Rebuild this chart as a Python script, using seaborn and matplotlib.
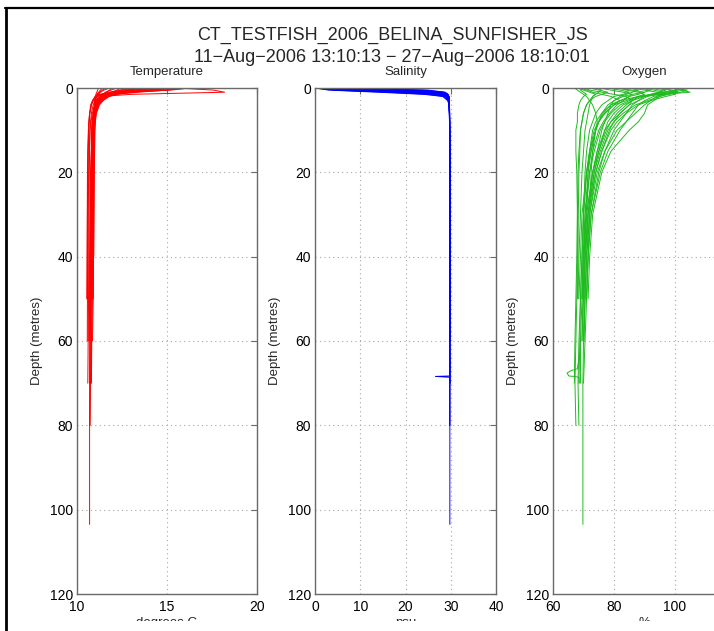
import numpy as np
import pandas as pd
import matplotlib
matplotlib.use("Agg")
import matplotlib.pyplot as plt
from matplotlib.lines import Line2D
from matplotlib.patches import Rectangle
import seaborn as sns

# ---------------- data ----------------
depth_levels = [0, 0.5, 1, 1.5, 2, 3, 4, 6, 8, 10, 15, 20, 30, 40, 50, 60, 70, 80, 90, 100, 103.5]

temp_casts = [
    [15.5, 17.6, 18.2, 13.0, 11.4, 11.1, 11.0, 10.9, 10.85, 10.8, 10.8, 10.78, 10.76, 10.75, 10.74, 10.72, 10.71, 10.7, 10.7, 10.7, 10.7],
    [16.3, 15.2, 12.8, 11.8, 11.4, 11.2, 11.05, 10.95, 10.9, 10.88, 10.85, 10.82, 10.8, 10.78, 10.76, 10.74, 10.72, 10.7],
    [14.8, 13.5, 12.2, 11.6, 11.3, 11.1, 11.0, 10.95, 10.92, 10.9, 10.88, 10.86, 10.84, 10.82, 10.8, 10.78, 10.75, 10.73],
    [13.6, 12.9, 12.3, 11.9, 11.6, 11.3, 11.15, 11.02, 10.98, 10.95, 10.92, 10.9, 10.88, 10.86, 10.84, 10.8, 10.76],
    [12.8, 12.4, 12.0, 11.7, 11.5, 11.3, 11.2, 11.05, 11.0, 10.98, 10.95, 10.93, 10.9, 10.88, 10.85, 10.82, 10.8],
    [15.0, 14.2, 12.6, 11.7, 11.3, 11.0, 10.9, 10.8, 10.75, 10.72, 10.7, 10.68, 10.66, 10.65, 10.64, 10.62, 10.6],
    [11.8, 11.5, 11.3, 11.2, 11.1, 11.0, 10.95, 10.9, 10.85, 10.82, 10.8, 10.78, 10.75, 10.72, 10.7, 10.68],
    [14.0, 13.2, 12.5, 12.0, 11.7, 11.4, 11.2, 11.0, 10.9, 10.85, 10.8, 10.75, 10.72, 10.7, 10.68, 10.66],
    [12.2, 11.9, 11.6, 11.4, 11.3, 11.15, 11.05, 10.95, 10.9, 10.86, 10.82, 10.8, 10.78, 10.76, 10.74],
    [16.0, 14.8, 13.0, 12.0, 11.5, 11.2, 11.0, 10.85, 10.78, 10.72, 10.68, 10.65, 10.62, 10.6, 10.58],
    [11.4, 11.3, 11.2, 11.1, 11.05, 11.0, 10.98, 10.95, 10.92, 10.9, 10.88, 10.86, 10.84, 10.82, 10.8],
    [13.0, 12.6, 12.1, 11.7, 11.4, 11.2, 11.1, 11.0, 10.96, 10.94, 10.92, 10.9, 10.88, 10.86, 10.85],
    [15.4, 14.0, 12.4, 11.5, 11.1, 10.9, 10.8, 10.72, 10.68, 10.65, 10.62, 10.6, 10.58, 10.57, 10.56],
    [12.0, 11.8, 11.6, 11.5, 11.4, 11.25, 11.12, 11.0, 10.96, 10.93, 10.9, 10.87, 10.85, 10.83, 10.82],
    [14.5, 13.0, 11.9, 11.4, 11.2, 11.05, 10.98, 10.92, 10.88, 10.85, 10.83, 10.8, 10.78, 10.76, 10.75],
    [11.6, 11.4, 11.25, 11.15, 11.08, 11.02, 10.98, 10.95, 10.93, 10.92, 10.91, 10.9, 10.89, 10.88],
    [16.2, 15.0, 13.4, 12.2, 11.6, 11.25, 11.08, 10.98, 10.95, 10.93, 10.92, 10.91, 10.9, 10.9, 10.88],
    [13.8, 12.5, 11.8, 11.3, 11.05, 10.9, 10.8, 10.7, 10.66, 10.63, 10.6, 10.58, 10.57, 10.56, 10.55],
    [15.8, 14.2, 12.9, 12.2, 11.8, 11.45, 11.25, 11.08, 11.02, 11.0, 10.98, 10.96, 10.94, 10.92, 10.9, 10.86],
    [12.5, 12.2, 11.9, 11.6, 11.4, 11.2, 11.08, 10.98, 10.92, 10.88, 10.84, 10.81, 10.79, 10.77, 10.75, 10.72, 10.7],
    [14.2, 13.6, 12.8, 12.1, 11.7, 11.35, 11.15, 11.0, 10.95, 10.92, 10.9, 10.88, 10.86, 10.84, 10.83],
    [11.2, 11.15, 11.1, 11.05, 11.02, 11.0, 10.99, 10.98, 10.97, 10.96, 10.95, 10.95, 10.94, 10.93],
    [15.2, 13.8, 12.0, 11.3, 11.0, 10.85, 10.76, 10.7, 10.66, 10.64, 10.62, 10.61, 10.6, 10.59, 10.58, 10.57],
    [13.3, 12.9, 12.4, 12.0, 11.7, 11.4, 11.2, 11.05, 11.0, 10.97, 10.95, 10.93, 10.92, 10.91, 10.9],
]

sal_casts = [
    [0.5, 12, 26, 28.8, 29.4, 29.6, 29.7, 29.72, 29.74, 29.75, 29.76, 29.77, 29.78, 29.78, 29.79, 29.8, 29.8, 29.8, 29.8, 29.8, 29.8],
    [0.0, 6, 20, 27, 29.0, 29.5, 29.65, 29.7, 29.72, 29.74, 29.75, 29.76, 29.77, 29.78, 29.78, 29.79, 29.8, 29.8],
    [2.0, 15, 25, 28.5, 29.3, 29.6, 29.7, 29.72, 29.73, 29.74, 29.75, 29.76, 29.77, 29.77, 29.78, 29.78, 29.79, 29.79],
    [0.2, 9, 22, 27.8, 29.1, 29.55, 29.68, 29.72, 29.74, 29.75, 29.76, 29.77, 29.78, 29.78, 29.79, 29.79, 29.8],
    [1.0, 20, 27.5, 29.0, 29.5, 29.65, 29.7, 29.73, 29.75, 29.76, 29.77, 29.78, 29.78, 29.79, 29.79, 29.8, 29.8],
    [0.0, 4, 16, 25, 28.5, 29.4, 29.62, 29.7, 29.72, 29.74, 29.75, 29.76, 29.77, 29.78, 29.78, 29.79, 29.8],
    [3.0, 18, 27, 29.2, 29.55, 29.68, 29.72, 29.74, 29.75, 29.76, 29.77, 29.78, 29.78, 29.79, 29.79, 29.8],
    [0.5, 10, 23, 28.2, 29.3, 29.6, 29.7, 29.72, 29.74, 29.75, 29.76, 29.77, 29.77, 29.78, 29.78, 29.79],
    [0.0, 14, 24.5, 28.6, 29.4, 29.62, 29.7, 29.73, 29.74, 29.75, 29.76, 29.77, 29.78, 29.78, 29.79],
    [1.5, 22, 28.2, 29.3, 29.6, 29.7, 29.72, 29.74, 29.75, 29.76, 29.77, 29.78, 29.78, 29.79, 29.79],
    [0.3, 7, 19, 26.5, 28.9, 29.5, 29.66, 29.71, 29.73, 29.74, 29.75, 29.76, 29.77, 29.78, 29.78],
    [4.0, 17, 26.5, 29.0, 29.5, 29.66, 29.71, 29.73, 29.75, 29.76, 29.77, 29.78, 29.78, 29.79, 29.79],
    [0.0, 11, 24, 28.4, 29.35, 29.6, 29.7, 29.72, 29.74, 29.75, 29.76, 29.77, 29.78, 29.78, 29.79],
    [2.5, 25, 28.8, 29.4, 29.6, 29.7, 29.72, 29.74, 29.75, 29.76, 29.77, 29.77, 29.78, 29.78, 29.79],
    [0.8, 13, 25.5, 28.7, 29.45, 29.64, 29.71, 29.73, 29.74, 29.75, 29.76, 29.77, 29.78, 29.78, 29.79],
    [0.1, 5, 18, 26, 28.7, 29.45, 29.64, 29.7, 29.73, 29.74, 29.75, 29.76, 29.77, 29.78],
    [0.0, 3, 14, 24, 28.2, 29.35, 29.6, 29.7, 29.73, 29.74, 29.75, 29.76, 29.77, 29.78, 29.78],
    [5.0, 21, 27.8, 29.2, 29.55, 29.68, 29.72, 29.74, 29.75, 29.76, 29.77, 29.78, 29.78, 29.79, 29.79],
    [0.4, 16, 26, 28.9, 29.45, 29.64, 29.71, 29.73, 29.74, 29.75, 29.76, 29.77, 29.78, 29.78, 29.79, 29.79],
    [1.2, 8, 21, 27.2, 29.0, 29.52, 29.66, 29.71, 29.73, 29.74, 29.75, 29.76, 29.77, 29.78, 29.78, 29.79, 29.8],
    [0.0, 19, 27.2, 29.1, 29.5, 29.65, 29.71, 29.73, 29.74, 29.75, 29.76, 29.77, 29.78, 29.78, 29.79],
    [2.2, 12, 24.8, 28.6, 29.4, 29.62, 29.7, 29.72, 29.74, 29.75, 29.76, 29.77, 29.78, 29.78],
    [0.6, 24, 28.5, 29.35, 29.58, 29.68, 29.72, 29.74, 29.75, 29.76, 29.77, 29.77, 29.78, 29.78, 29.79, 29.79],
    [0.0, 9, 21.5, 27.5, 29.05, 29.55, 29.68, 29.72, 29.74, 29.75, 29.76, 29.77, 29.78, 29.78, 29.79],
]

oxy_casts = [
    [98, 102, 105, 96, 88, 82, 79, 76, 74, 73, 72, 71.5, 71, 70.5, 70.2, 70, 69.8, 69.8, 69.8, 69.8, 69.8],
    [100, 101, 97, 92, 88, 84, 80, 77, 75, 74, 72, 71, 70, 69.5, 69, 68.5, 68.2, 68.5],
    [70, 69, 70, 71, 70, 69, 68.5, 68, 68, 67.5, 67.5, 67.8, 68, 68, 67.8, 67.5, 67.2, 67.5],
    [95, 98, 100, 94, 90, 86, 83, 80, 78, 77, 75, 73, 71, 70, 69.5, 69, 69],
    [88, 92, 90, 86, 83, 80, 78, 76, 75, 74, 73, 72.5, 72, 71.5, 71, 70.5, 70],
    [72, 75, 78, 76, 74, 72, 71, 70, 69.5, 69, 68.5, 68.2, 68, 67.8, 67.5, 67.2, 67],
    [101, 103, 99, 96, 94, 92, 90, 87, 84, 81, 77, 74.5, 72, 71, 70.5, 70],
    [85, 88, 86, 84, 82, 80, 79, 78, 77, 76, 74.5, 73, 71.5, 71, 70.5, 70.2],
    [94, 97, 95, 92, 90, 88, 86, 84, 82, 80, 77, 75, 72.5, 71.5, 71],
    [68, 70, 72, 74, 73, 72, 71, 70, 69.5, 69, 68.8, 68.5, 68.3, 68.2, 68],
    [90, 93, 96, 93, 89, 85, 82, 79, 77, 75.5, 73.5, 72, 70.5, 70, 69.5],
    [78, 82, 85, 83, 80, 78, 76, 74, 73, 72, 71, 70.5, 70, 69.8, 69.5],
    [102, 100, 97, 94, 91, 88, 85, 82, 80, 78.5, 76, 74, 71.5, 70.5, 70],
    [74, 76, 75, 74, 73, 72.5, 72, 71.5, 71, 70.5, 70, 69.5, 69, 68.5, 68.2],
    [96, 99, 101, 98, 95, 93, 91, 90, 88, 85, 79, 76, 73, 72, 71.5],
    [80, 86, 90, 88, 85, 82, 79, 76.5, 75, 74, 72.5, 71.5, 70.5, 70],
    [67, 68, 69, 70, 71, 72, 73, 74, 74.5, 74, 72.5, 71, 69.5, 69, 68.5],
    [99, 104, 102, 97, 93, 90, 88, 86, 84, 82, 78, 75.5, 72.5, 71.5, 71],
    [82, 84, 88, 90, 88, 86, 84, 81, 79, 77.5, 75, 73.5, 71.5, 70.5, 70, 69.5],
    [69, 71, 73, 76, 79, 82, 80, 77, 75, 73.5, 72, 71, 70, 69.5, 69, 68.8, 68.5],
    [92, 95, 98, 100, 97, 92, 88, 84, 81, 79, 76, 74, 72, 71, 70.5],
    [70, 72, 76, 80, 84, 86, 85, 82, 79, 77, 74.5, 73, 71, 70],
    [86, 90, 94, 97, 95, 91, 87, 83, 80, 78, 75.5, 73.5, 71.5, 70.5, 69.8, 69.5],
    [75, 79, 83, 86, 85, 83, 81, 78.5, 76.5, 75, 73, 72, 70.8, 70.2, 69.8],
]

# one cast with a glitch around 68 m
anomaly_depth = [64, 66.6, 67.0, 67.6, 68.3, 68.4, 68.6, 70]
anomaly_temp = [10.8, 10.8, 10.8, 10.8, 10.8, 10.8, 10.8, 10.79]
anomaly_sal = [29.78, 29.78, 29.78, 29.76, 29.7, 26.6, 29.7, 29.78]
anomaly_oxy = [68.5, 68.0, 66.0, 64.6, 65.2, 67.0, 68.5, 68.6]

panel_titles = ["Temperature", "Salinity", "Oxygen"]
panel_xlabels = ["degrees C", "psu", "%"]
panel_xlims = [(10, 20), (0, 40), (60, 120)]
panel_xticks = [[10, 15, 20], [0, 10, 20, 30, 40], [60, 80, 100, 120]]
depth_ticks = [0, 20, 40, 60, 80, 100, 120]
title_line1 = "CT_TESTFISH_2006_BELINA_SUNFISHER_JS"
title_line2 = "11\u2212Aug\u22122006 13:10:13 \u2212 27\u2212Aug\u22122006 18:10:01"


def build_frame(casts, anomaly_vals):
    rows = []
    for i, vals in enumerate(casts):
        for d, v in zip(depth_levels[:len(vals)], vals):
            rows.append((i, d, v))
    for d, v in zip(anomaly_depth, anomaly_vals):
        rows.append((len(casts), d, v))
    return pd.DataFrame(rows, columns=["cast", "depth", "value"])


frames = [build_frame(temp_casts, anomaly_temp),
          build_frame(sal_casts, anomaly_sal),
          build_frame(oxy_casts, anomaly_oxy)]
colors = ["#ff0000", "#0000ff", "#1fbb1f"]

# ---------------- figure ----------------
sns.set_style("white")
plt.rcParams["font.family"] = ["Liberation Sans", "DejaVu Sans"]

W, H = 714, 631
fig = plt.figure(figsize=(W / 100, H / 100), dpi=100)
fig.patch.set_facecolor("white")

ax_lefts = [77, 315, 553]
ax_widths = [180, 181, 183]
ax_top, ax_bottom = 88, 594

for k in range(3):
    ax = fig.add_axes([ax_lefts[k] / W, (H - ax_bottom) / H,
                       ax_widths[k] / W, (ax_bottom - ax_top) / H])
    sns.lineplot(data=frames[k], x="value", y="depth", units="cast",
                 estimator=None, sort=False, orient="y", color=colors[k],
                 lw=0.7, legend=False, ax=ax)
    ax.set_xlim(*panel_xlims[k])
    ax.set_xticks(panel_xticks[k])
    ax.set_ylim(120, 0)
    ax.set_yticks(depth_ticks)
    ax.grid(True, linestyle=(0, (1, 3)), color="#a8a8a8", lw=0.8)
    ax.set_axisbelow(True)
    for sp in ax.spines.values():
        sp.set_color("#6a6a6a")
        sp.set_linewidth(1.0)
    ax.tick_params(direction="in", length=4, width=0.8, color="#6a6a6a",
                   top=True, right=True, labelsize=10, labelcolor="black")
    ax.tick_params(axis="x", pad=4.5)
    ax.tick_params(axis="y", pad=3)
    ax.set_title(panel_titles[k], fontsize=9.5, pad=9)
    ax.set_ylabel("Depth (metres)", fontsize=9.5, labelpad=4.5)
    ax.set_xlabel(panel_xlabels[k], fontsize=9.5, labelpad=2)

fig.text(392 / W, 1 - 35 / H, title_line1, ha="center", va="center", fontsize=13)
fig.text(392 / W, 1 - 57 / H, title_line2, ha="center", va="center", fontsize=13)

# the reference screenshot is cropped through the x-axis labels
fig.add_artist(Rectangle((8 / W, 0), 1, 10 / H, transform=fig.transFigure,
                         facecolor="white", edgecolor="none", zorder=20))
# black frame on the top and left (screenshot border)
fig.add_artist(Line2D([6 / W, 6 / W], [0, 1 - 7.5 / H], transform=fig.transFigure,
                      color="black", lw=2.0, zorder=21))
fig.add_artist(Line2D([5 / W, 1], [1 - 7.5 / H, 1 - 7.5 / H], transform=fig.transFigure,
                      color="black", lw=1.6, zorder=21))

fig.savefig("out.png", dpi=100)
